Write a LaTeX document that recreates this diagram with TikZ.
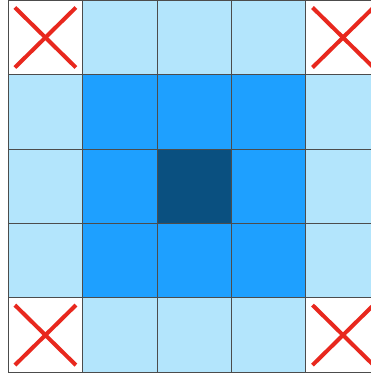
\documentclass[tikz,border=0pt]{standalone}
\definecolor{lightc}{RGB}{179,229,252}
\definecolor{midc}{RGB}{30,160,255}
\definecolor{darkc}{RGB}{10,80,128}
\definecolor{crossc}{RGB}{232,40,30}
\begin{document}
\begin{tikzpicture}[x=1pt,y=-1pt,
  cell/.style={draw=black!70,line width=1pt,minimum size=74.4pt,inner sep=0pt,outer sep=0pt,anchor=center},
  crossline/.style={draw=crossc,line width=4pt}]
\useasboundingbox (0,0) rectangle (371,373);
\foreach \i in {0,...,4}{
  \foreach \j in {0,...,4}{
    \pgfmathtruncatemacro{\di}{max(abs(\i-2),abs(\j-2))}
    \ifnum\di=0 \def\fc{darkc}\fi
    \ifnum\di=1 \def\fc{midc}\fi
    \ifnum\di=2 \def\fc{lightc}\fi
    \pgfmathtruncatemacro{\corner}{(abs(\i-2)==2)&&(abs(\j-2)==2)}
    \ifnum\corner=1 \def\fc{white}\fi
    \node[cell,fill=\fc] (c\i\j) at ({8.2+74.4*\i+37.2},{0.3+74.4*\j+37.2}) {};
  }
}
\foreach \n in {c00,c40,c04,c44}{
  \draw[crossline] ([xshift=-30.5pt,yshift=30pt]\n.center) -- ([xshift=30.5pt,yshift=-30pt]\n.center);
  \draw[crossline] ([xshift=-30.5pt,yshift=-30pt]\n.center) -- ([xshift=30.5pt,yshift=30pt]\n.center);
}
\end{tikzpicture}
\end{document}
